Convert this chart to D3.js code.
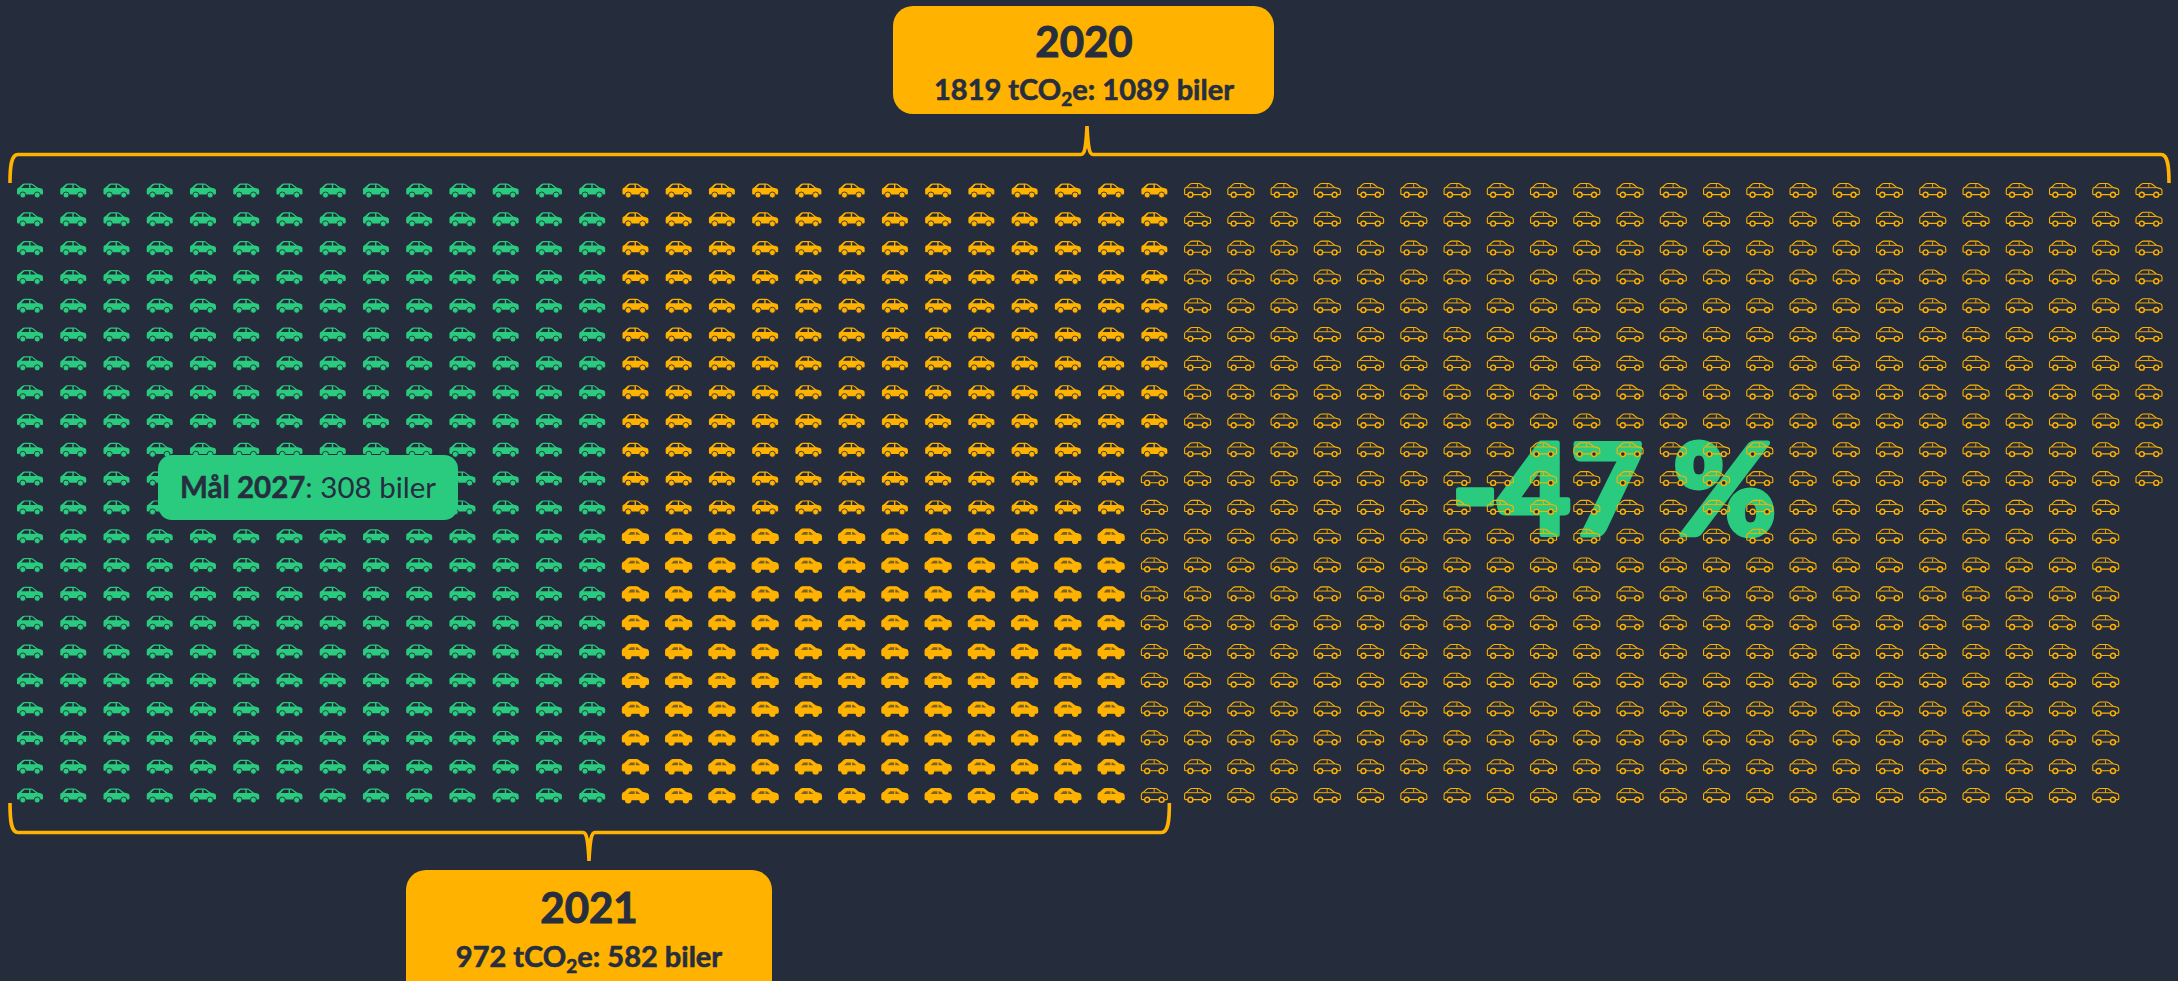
<!DOCTYPE html>
<html><head><meta charset="utf-8">
<script src="https://cdn.jsdelivr.net/npm/d3@7/dist/d3.min.js"></script>
<style>html,body{margin:0;padding:0;background:#252C3C;overflow:hidden}svg{display:block}text{font-family:Lato,"Open Sans",sans-serif}</style>
</head><body><svg id="c" width="2178" height="981"></svg>
<script>
const carsTotal2020 = 1089;
const carsTotal2021 = 582;
const carsGoal2027 = 308;
const rowsPerColumn = 22;
const columnCount = 50;
const boldFromRow = 12;
const label2020 = ["2020", "1819 tCO", "2", "e: 1089 biler"];
const label2021 = ["2021", "972 tCO", "2", "e: 582 biler"];
const labelGoal = ["Mål 2027", ": 308 biler"];
const labelChange = "-47 %";

const BG = "#252C3C", AMBER = "#FFB300", GREEN = "#2ACB7F", INK = "#262E3F";
const svg = d3.select("#c");
const x = d3.scaleLinear().domain([0, columnCount - 1]).range([30, 2149]);
const y = d3.scaleLinear().domain([0, rowsPerColumn - 1]).range([191, 796]);

const BODY = "M-13,2.8 L-13,-1.4 Q-13,-3.2 -11,-3.6 L-7.6,-6.8 Q-6.8,-7.5 -5.6,-7.5 L1,-7.5 Q2.2,-7.5 3.2,-6.7 L7.4,-3.4 L11.5,-2.4 Q13,-1.9 13,0 L13,2.8 Q13,3.6 12,3.6 L-12,3.6 Q-13,3.6 -13,2.8 Z";
const WIN_R = "M-0.9,-6.3 L-5.7,-6.3 L-8.8,-3 L-0.9,-3 Z";
const WIN_F = "M0.5,-6.3 L2,-6.3 L5.8,-3 L0.5,-3 Z";
const WHEELS = [-7.2, 7.2];

const cars = d3.range(carsTotal2020).map(i => {
  const col = Math.floor(i / rowsPerColumn), row = i % rowsPerColumn;
  let kind = "outline", color = AMBER;
  if (i < carsGoal2027) { kind = "solid"; color = GREEN; }
  else if (i < carsTotal2021) kind = row >= boldFromRow ? "bold" : "solid";
  return {col, row, kind, color};
});

// big text sits under the cars
svg.append("text").attr("x", 1614).attr("y", 535).attr("text-anchor", "middle")
  .attr("font-size", 125).attr("font-weight", 900).attr("fill", GREEN)
  .attr("stroke", GREEN).attr("stroke-width", 5).attr("stroke-linejoin", "round").text(labelChange);

const g = svg.append("g").selectAll("g").data(cars).join("g")
  .attr("transform", d => `translate(${x(d.col)},${y(d.row)})`);

g.each(function(d) {
  const s = d3.select(this);
  if (d.kind === "outline") {
    s.append("path").attr("d", BODY).attr("fill", "none").attr("stroke", d.color).attr("stroke-width", 1.1);
    s.append("path").attr("d", "M-10.5,-3.3 L7,-3.3 M-0.2,-7 L-0.2,-3.3").attr("fill", "none").attr("stroke", d.color).attr("stroke-width", 0.9);
    WHEELS.forEach(w => s.append("circle").attr("cx", w).attr("cy", 3.8).attr("r", 2.5).attr("fill", BG).attr("stroke", d.color).attr("stroke-width", 1.4));
  } else if (d.kind === "solid") {
    s.append("path").attr("d", BODY).attr("fill", d.color);
    s.append("path").attr("d", WIN_R + WIN_F).attr("fill", BG);
    WHEELS.forEach(w => s.append("circle").attr("cx", w).attr("cy", 4).attr("r", 3).attr("fill", d.color).attr("stroke", BG).attr("stroke-width", 0.9));
  } else {
    s.append("path").attr("d", BODY).attr("fill", d.color).attr("stroke", d.color).attr("stroke-width", 1.2);
    s.append("path").attr("d", WIN_R + WIN_F).attr("fill", BG).attr("opacity", 0.6).attr("transform", "translate(0,0.6) scale(0.85)");
    WHEELS.forEach(w => s.append("circle").attr("cx", w).attr("cy", 4.2).attr("r", 3.2).attr("fill", d.color));
  }
});

function brace(x0, x1, tip, yLine, yLeg, yTip) {
  const s = yLeg > yLine ? 1 : -1;
  const t = yTip > yLine ? 1 : -1;
  const p = d3.path();
  p.moveTo(x0, yLeg);
  p.bezierCurveTo(x0, yLine + s * 12, x0 + 1, yLine, x0 + 8, yLine);
  p.lineTo(tip - 6, yLine);
  p.bezierCurveTo(tip - 2, yLine, tip - 1, yLine + t * 8, tip, yTip);
  p.bezierCurveTo(tip + 1, yLine + t * 8, tip + 2, yLine, tip + 6, yLine);
  p.lineTo(x1 - 8, yLine);
  p.bezierCurveTo(x1 - 1, yLine, x1, yLine + s * 12, x1, yLeg);
  svg.append("path").attr("d", p.toString()).attr("fill", "none").attr("stroke", AMBER).attr("stroke-width", 3.6);
}
brace(x(0) - 20, x(columnCount - 1) + 20, 1087, 154.5, 183, 126);
brace(x(0) - 20, x(26) + 15, 589, 832.5, 803, 861);

function box(bx, by, w, h, r, fill) {
  svg.append("rect").attr("x", bx).attr("y", by).attr("width", w).attr("height", h).attr("rx", r).attr("fill", fill);
}
function yearBox(bx, by, w, h, cx, lab, yBase, subBase) {
  box(bx, by, w, h, 20, AMBER);
  svg.append("text").attr("x", cx).attr("y", yBase).attr("text-anchor", "middle")
    .attr("font-size", 42).attr("font-weight", 700).attr("fill", INK)
    .attr("stroke", INK).attr("stroke-width", 1).text(lab[0]);
  const t = svg.append("text").attr("x", cx).attr("y", subBase).attr("text-anchor", "middle")
    .attr("font-size", 29).attr("font-weight", 700).attr("fill", INK)
    .attr("stroke", INK).attr("stroke-width", 0.6);
  t.append("tspan").text(lab[1]);
  t.append("tspan").attr("font-size", 19).attr("dy", 6).text(lab[2]);
  t.append("tspan").attr("dy", -6).text(lab[3]);
}
yearBox(893, 6, 381, 108, 1084, label2020, 57, 100);
yearBox(406, 870, 366, 140, 589, label2021, 923, 967);

box(158, 455, 300, 65, 14, GREEN);
const gt = svg.append("text").attr("x", 308).attr("y", 498).attr("text-anchor", "middle")
  .attr("font-size", 29.5).attr("fill", INK);
gt.append("tspan").attr("font-weight", 700).attr("stroke", INK).attr("stroke-width", 0.5).text(labelGoal[0]);
gt.append("tspan").text(labelGoal[1]);
</script></body></html>
